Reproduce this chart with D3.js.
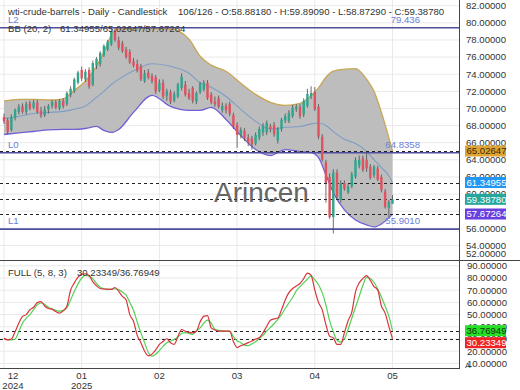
<!DOCTYPE html>
<html><head><meta charset="utf-8">
<script src="https://cdn.jsdelivr.net/npm/d3@7"></script>
<style>
html,body{margin:0;padding:0;background:#fff;}
svg{display:block;font-family:"Liberation Sans",Arial,sans-serif;}
</style></head><body>
<svg id="chart" width="520" height="390"></svg>
<script>
// daily candles, index 0..105
const opens = [69.0,68.6,67.5,68.9,69.6,70.3,69.6,70.6,70.1,70.7,
  69.7,69.2,69.9,70.3,70.7,70.0,70.9,70.5,71.6,72.0,
  73.0,74.5,73.4,74.5,72.8,75.0,75.2,76.2,76.9,77.5,
  79.1,78.0,77.6,76.9,76.6,75.5,75.2,74.9,73.2,74.2,
  73.8,73.6,72.1,73.0,71.5,71.9,70.9,71.4,72.4,72.8,
  71.8,72.4,70.8,71.9,72.2,73.0,71.6,70.8,71.2,69.8,
  70.3,70.5,69.2,68.1,66.9,67.4,66.6,66.5,65.9,66.6,
  67.2,67.2,67.9,68.1,66.3,67.6,68.6,68.5,69.1,69.9,
  70.2,69.3,70.3,71.4,71.9,70.2,66.7,63.7,62.0,57.3,
  62.5,59.3,61.3,60.2,60.9,62.0,63.3,64.2,64.0,63.2,
  62.2,63.0,62.0,60.3,58.4,58.8818];
const highs = [69.4,68.9,69.3,70.0,70.5,70.6,70.8,70.9,71.0,71.0,
  70.2,70.3,70.5,71.0,71.0,71.1,71.2,72.0,72.6,73.6,
  74.4,74.9,74.6,74.8,75.6,76.0,76.7,77.5,78.0,79.436,
  79.4,78.4,77.9,77.2,76.9,75.9,75.7,75.2,74.5,74.6,
  74.1,73.9,73.4,73.4,72.3,72.2,72.0,73.0,74.1,73.2,
  72.3,72.6,72.0,73.1,73.3,73.3,71.9,71.4,71.5,70.7,
  70.6,70.8,69.5,68.4,67.8,67.7,67.0,66.8,67.2,67.9,
  68.3,68.6,68.2,68.4,67.8,68.9,69.4,69.8,70.4,70.5,
  70.5,71.2,72.3,72.6,72.5,70.5,67.0,64.0,62.4,62.9,
  62.9,61.6,61.6,61.2,62.6,64.3,64.5,64.5,64.8358,63.5,
  63.4,63.3,62.3,60.6,59.3,59.8909];
const lows = [68.2,67.0,67.3,68.6,69.3,69.4,69.3,69.8,69.9,69.4,
  68.9,69.0,69.4,70.0,69.9,69.8,70.0,70.3,71.3,71.8,
  72.8,73.2,73.1,72.3,72.6,74.6,74.9,76.0,76.7,77.3,
  77.8,76.8,76.5,75.8,75.2,74.8,74.2,73.2,73.0,73.4,
  72.9,71.7,71.9,71.1,70.9,70.5,70.7,71.2,72.1,71.4,
  71.0,70.6,70.5,71.7,72.0,71.0,70.5,70.2,70.0,69.5,
  69.4,69.1,67.6,65.4,66.5,66.2,65.6,65.2,65.7,66.3,
  66.8,66.9,67.2,66.7,65.9,67.3,68.3,68.3,68.9,69.6,
  68.8,69.0,70.1,71.1,69.7,66.4,63.8,59.0,57.1,55.4,
  59.3,59.0,60.4,60.0,60.7,61.8,63.0,62.6,62.6,61.7,
  61.9,61.5,60.2,58.3,57.3,58.8729];
const closes = [68.5,67.3,69.0,69.8,70.2,69.6,70.5,70.0,70.7,69.6,
  69.2,69.9,70.3,70.8,70.1,70.9,70.3,71.8,72.3,73.4,
  74.2,73.5,74.3,72.6,75.3,75.8,76.5,77.3,77.8,79.0,
  78.0,77.1,76.7,76.0,75.4,75.0,74.4,73.4,74.1,73.6,
  73.2,72.0,73.0,71.4,72.0,70.8,71.7,72.8,73.7,71.6,
  71.2,70.9,71.8,72.9,73.0,71.2,70.7,70.5,70.2,70.3,
  69.8,69.4,67.9,66.9,67.5,66.5,66.0,65.8,66.9,67.6,
  68.0,68.3,67.6,67.0,67.6,68.7,69.1,69.5,70.1,70.2,
  69.1,70.9,71.7,71.8,69.9,66.7,64.0,61.3,57.3,62.5,
  59.7,61.3,60.6,60.9,62.3,64.0,64.0,62.8,63.0,61.9,
  63.2,61.7,60.5,58.5,59.1,59.3878];

// bollinger (20,2), read at these bar indexes
const bbIdx   = [0,4,8,12,16,19,22,25,27,29,31,35,40,45,50,53,56,60,64,68,72,76,80,83,85,87,89,92,95,98,100,102,104,105];
const bbUpper = [70.87,71.07,71.07,70.99,71.13,72.12,73.18,74.94,76.58,78.58,79.28,79.34,79.34,79.28,78.1,76.1,75.06,74.35,72.95,71.65,70.72,70.36,70.6,71.5,72.4,73.65,74.35,74.59,74.65,73.42,72.0,69.54,66.6,65.03];
const bbMid   = [68.84,69.07,69.42,69.54,69.66,69.9,70.3,71.3,72.0,72.8,73.4,74.4,75.23,74.94,74.12,73.0,72.48,71.4,69.9,68.49,67.6,67.8,67.9,68.2,68.3,68.0,67.3,66.4,65.9,64.97,64.03,63.09,62.15,61.35];
const bbLower = [66.96,67.14,67.31,67.49,67.55,67.55,67.66,67.9,67.43,67.2,67.55,69.54,71.54,70.25,69.78,69.78,70.13,68.72,66.84,65.2,64.5,65.2,64.97,64.85,64.26,62.26,60.15,58.15,56.98,56.4,56.16,56.51,57.22,57.67];

// full stochastic (5,8,3), one value per bar
const stochK = [30.5,29.3,30,36,43,48.5,50,54,56,59.8,
  60.6,57,55,54.5,52.5,51.2,53,57,70,76,
  80.8,83,83.5,82,77,73.5,71.4,71,70.8,70.6,
  72.2,69,65,62,50,44.5,33,27,20,16.2,
  17.6,21,25.6,28,30.2,27,25.6,32,37.8,36.4,
  35.5,35.1,36.4,44,48.5,49.1,39.1,37.5,36.4,36.4,
  36.4,36.4,28,23,24.5,25.6,27,28.3,30,31,
  35,40.4,45.3,46.5,47.2,53.9,62,68,71.4,73.5,
  75.5,79.5,84,82.2,70.1,60,53.9,41.8,32.3,31,
  25.6,25.6,35.1,45,52,68.7,76,79.5,81.9,78.1,
  73,70.1,57,51.2,40.4,30.23349];
const stochD = [30.5,29.4,29.2,30,36,43,47,50,54,58,
  59.5,58.3,56,54.5,53.5,52.8,53.5,55.5,62,69,
  75,80,82.2,81.5,79.5,75.5,72.5,71.2,70.6,70.8,
  71.2,70.5,68.5,66,60,53.5,44,35,27,19,
  16,17.5,20.5,24,27,28.3,29.7,31.5,34.5,35.2,
  34.5,33.8,36.5,39.1,43,45.5,43,38,37,36.6,
  36.4,36.4,32,28.5,27,25,24.5,26,27.8,30.5,
  33,36.5,39.5,42.5,46,50,55,59.5,64,69.5,
  73,76,79,81.8,78.5,74.5,68,58,45,36,
  29,27.5,30,38,47,56,65,74,80.5,79.5,
  76.5,71,64.5,57,49,36.76949];

const priceTicks = [54,56,58,60,62,64,66,68,70,72,74,76,78,80,82];
const edgeTick = 52;
const stochTicks = [10,20,30,40,50,60,70,80,90];
const monthIdx = [0,21,42,63,84,105];
const monthLabels = ['12','01','02','03','04','05'];
const yearLabels = ['2024','2025','','','',''];
const levels = [{name:'L2', v:79.436, txt:'79.436'}, {name:'L0', v:64.8358, txt:'64.8358'}, {name:'L1', v:55.9010, txt:'55.9010'}];
const lastBB = {upper:65.02647, mid:61.34955, lower:57.67264};
const lastClose = 59.38780;

const PLOT_R = 459;
const MAIN = {top: 0, bottom: 260};
const OSC = {top: 260, bottom: 368};
const FS = 9.6;
const C = {grid:'#e9e9e9', text:'#333', up:'#2ea58c', down:'#e0525f', wick:'#4a4a4a',
  fill:'#bdbdbd', upper:'#c8a655', mid:'#7d9dc6', lower:'#7060d6', level:'#4e4e9c', levelTxt:'#6a80d6'};

const svg = d3.select('#chart');
const x = d3.scaleLinear().domain([-1.08, 122.97]).range([0, PLOT_R]);
const y = d3.scaleLinear().domain([52.3, 82.67]).range([MAIN.bottom, MAIN.top]);
const yS = d3.scaleLinear().domain([6.23, 94.75]).range([OSC.bottom, OSC.top]);

svg.append('rect').attr('width', 520).attr('height', 390).attr('fill', '#fff');

const defs = svg.append('defs');
defs.append('clipPath').attr('id', 'clipMain').append('rect')
  .attr('x', 0).attr('y', MAIN.top).attr('width', PLOT_R).attr('height', MAIN.bottom - MAIN.top);
defs.append('clipPath').attr('id', 'clipOsc').append('rect')
  .attr('x', 0).attr('y', OSC.top).attr('width', PLOT_R).attr('height', OSC.bottom - OSC.top);

// grid
const grid = svg.append('g');
grid.selectAll('line.h').data(priceTicks).join('line')
  .attr('x1', 0).attr('x2', PLOT_R).attr('y1', d => y(d)).attr('y2', d => y(d))
  .attr('stroke', C.grid);
grid.selectAll('line.hs').data(stochTicks).join('line')
  .attr('x1', 0).attr('x2', PLOT_R).attr('y1', d => yS(d)).attr('y2', d => yS(d))
  .attr('stroke', C.grid);
grid.selectAll('line.v').data(monthIdx).join('line')
  .attr('x1', d => x(d)).attr('x2', d => x(d)).attr('y1', 0).attr('y2', OSC.bottom)
  .attr('stroke', C.grid);

// main panel
const main = svg.append('g').attr('clip-path', 'url(#clipMain)');
const bb = bbIdx.map((d, i) => ({i: d, u: bbUpper[i], m: bbMid[i], l: bbLower[i]}));
main.append('path').datum(bb)
  .attr('d', d3.area().x(d => x(d.i)).y0(d => y(d.l)).y1(d => y(d.u)).curve(d3.curveMonotoneX))
  .attr('fill', C.fill);
[['u', C.upper], ['m', C.mid], ['l', C.lower]].forEach(([k, col]) => {
  main.append('path').datum(bb)
    .attr('d', d3.line().x(d => x(d.i)).y(d => y(d[k])).curve(d3.curveMonotoneX))
    .attr('fill', 'none').attr('stroke', col).attr('stroke-width', k === 'm' ? 1.1 : 1.3);
});

// level lines
main.selectAll('line.lvl').data(levels).join('line')
  .attr('x1', 0).attr('x2', PLOT_R).attr('y1', d => y(d.v)).attr('y2', d => y(d.v))
  .attr('stroke', C.level).attr('stroke-width', 1.6);

// current-value dashed lines
main.selectAll('line.cur').data([lastBB.upper, lastBB.mid, lastClose, lastBB.lower]).join('line')
  .attr('x1', 0).attr('x2', PLOT_R).attr('y1', d => Math.round(y(d)) + 0.5).attr('y2', d => Math.round(y(d)) + 0.5)
  .attr('stroke', '#222').attr('stroke-dasharray', '3,3');

// watermark
svg.append('text').attr('x', 214).attr('y', 202).attr('font-size', 28)
  .attr('fill', '#4d4d4d').attr('opacity', 0.85).text('Arincen');

// candles
const bars = d3.range(closes.length);
const cg = main.append('g');
cg.selectAll('line').data(bars).join('line')
  .attr('x1', i => x(i)).attr('x2', i => x(i))
  .attr('y1', i => y(highs[i])).attr('y2', i => y(lows[i]))
  .attr('stroke', C.wick).attr('stroke-width', 0.8);
cg.selectAll('rect').data(bars).join('rect')
  .attr('x', i => x(i) - 1.2).attr('width', 2.4)
  .attr('y', i => y(Math.max(opens[i], closes[i])))
  .attr('height', i => Math.max(0.8, Math.abs(y(opens[i]) - y(closes[i]))))
  .attr('fill', i => closes[i] >= opens[i] ? C.up : C.down);

// level labels
svg.selectAll('text.lvn').data(levels).join('text')
  .attr('x', 8).attr('y', d => y(d.v) - 5).attr('font-size', FS).attr('fill', C.levelTxt).text(d => d.name);
svg.selectAll('text.lvv').data(levels).join('text')
  .attr('x', 420).attr('y', d => y(d.v) - 5).attr('text-anchor', 'end')
  .attr('font-size', FS).attr('fill', C.levelTxt).text(d => d.txt);

// oscillator
const osc = svg.append('g').attr('clip-path', 'url(#clipOsc)');
osc.selectAll('line.cur').data([stochD[stochD.length - 1], stochK[stochK.length - 1]]).join('line')
  .attr('x1', 0).attr('x2', PLOT_R).attr('y1', d => Math.round(yS(d)) + 0.5).attr('y2', d => Math.round(yS(d)) + 0.5)
  .attr('stroke', '#222').attr('stroke-dasharray', '3,3');
osc.append('path').datum(stochD)
  .attr('d', d3.line().x((d, i) => x(i)).y(d => yS(d)).curve(d3.curveMonotoneX))
  .attr('fill', 'none').attr('stroke', '#55d155').attr('stroke-width', 1.2);
osc.append('path').datum(stochK)
  .attr('d', d3.line().x((d, i) => x(i)).y(d => yS(d)).curve(d3.curveMonotoneX))
  .attr('fill', 'none').attr('stroke', '#d8343c').attr('stroke-width', 1.2);

// frames
svg.append('line').attr('x1', 0).attr('x2', 520).attr('y1', OSC.top + 0.5).attr('y2', OSC.top + 0.5)
  .attr('stroke', '#444');
svg.append('line').attr('x1', 0).attr('x2', PLOT_R).attr('y1', OSC.bottom + 0.5).attr('y2', OSC.bottom + 0.5)
  .attr('stroke', '#444');
svg.append('line').attr('x1', PLOT_R + 0.5).attr('x2', PLOT_R + 0.5).attr('y1', 0).attr('y2', OSC.bottom + 1)
  .attr('stroke', '#444');

// right axis labels
const fmt = d3.format('.5f');
const axisG = svg.append('g').attr('font-size', FS).attr('fill', C.text);
axisG.selectAll('text.p').data(priceTicks.concat([edgeTick])).join('text')
  .attr('x', 466).attr('y', d => Math.min(y(d), 254)).attr('dy', '0.35em').text(fmt);
axisG.selectAll('text.s').data(stochTicks).join('text')
  .attr('x', 467).attr('y', d => Math.max(yS(d), 264)).attr('dy', '0.35em').text(fmt);
axisG.append('text').attr('x', 465).attr('y', 368).attr('font-size', 8).text('A');

function tag(yy, val, bg, fg) {
  svg.append('rect').attr('x', 465).attr('y', yy - 5.5).attr('width', 41).attr('height', 11).attr('fill', bg);
  svg.append('text').attr('x', 466.5).attr('y', yy).attr('dy', '0.35em')
    .attr('font-size', FS).attr('fill', fg).text(fmt(val));
}
tag(y(lastBB.upper), lastBB.upper, '#dfa534', '#3a2a00');
tag(y(lastBB.mid), lastBB.mid, '#2196f3', '#fff');
tag(y(lastClose), lastClose, '#26a69a', '#fff');
tag(y(lastBB.lower), lastBB.lower, '#6a3fe0', '#fff');
const dLast = stochD[stochD.length - 1], kLast = stochK[stochK.length - 1];
tag(yS(dLast), dLast, '#25e025', '#113311');
tag(Math.max(yS(kLast), yS(dLast) + 12), kLast, '#ee2424', '#fff');

// x axis labels
const xl = svg.append('g').attr('font-size', FS).attr('fill', C.text).attr('text-anchor', 'middle');
xl.selectAll('text.m').data(monthIdx).join('text')
  .attr('x', d => Math.max(x(d), 13)).attr('y', 376).attr('dy', '0.35em').text((d, i) => monthLabels[i]);
xl.selectAll('text.yr').data(monthIdx).join('text')
  .attr('x', d => Math.max(x(d), 13)).attr('y', 386).attr('dy', '0.35em').text((d, i) => yearLabels[i]);

// headers
const hd = svg.append('g').attr('font-size', FS).attr('fill', C.text);
hd.append('text').attr('x', 8).attr('y', 12).attr('dy', '0.35em').text('wti-crude-barrels - Daily - Candlestick');
hd.append('text').attr('x', 178).attr('y', 12).attr('dy', '0.35em')
  .text('106/126 - O:58.88180 - H:59.89090 - L:58.87290 - C:59.38780');
hd.append('text').attr('x', 8).attr('y', 29).attr('dy', '0.35em').text('BB (20, 2)');
hd.append('text').attr('x', 60).attr('y', 29).attr('dy', '0.35em')
  .text(`${fmt(lastBB.mid)}/${fmt(lastBB.upper)}/${fmt(lastBB.lower)}`);
hd.append('text').attr('x', 8).attr('y', 273).attr('dy', '0.35em').text('FULL (5, 8, 3)');
hd.append('text').attr('x', 77).attr('y', 273).attr('dy', '0.35em').text(`${fmt(kLast)}/${fmt(dLast)}`);
</script>
</body></html>
